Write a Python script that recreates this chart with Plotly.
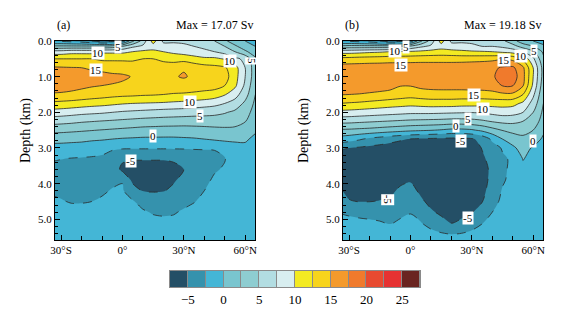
import plotly.graph_objects as go

# ---------------- data ----------------
lat = [-35, -30, -25, -20, -15, -10, -5, 0, 5, 10, 15, 20, 25, 30, 35, 40, 45, 50, 55, 60, 65]
depth = [0, 0.15, 0.3, 0.5, 0.75, 1.0, 1.25, 1.5, 1.75, 2.0, 2.25, 2.5, 2.75, 3.0, 3.3, 3.6, 3.9, 4.2, 4.5, 4.8, 5.1, 5.6]

psi_a = [
    [-3, -3, -3.5, -4, -5, -6, -6, -4, 2, 6, 11, 7, 7, 7, 6.5, 6, 5, 3, 1, 0, -1],
    [3, 3, 3, 3, 3, 3, 3.5, 5, 7, 8, 9, 8.5, 8.5, 8, 7.5, 7, 6.5, 5, 3, 1, 0],
    [8.5, 8.5, 9, 9, 9, 9.5, 9.5, 9.5, 10, 10.5, 10.5, 10, 9.5, 9, 8.5, 8, 7.5, 6.5, 5, 3, 1],
    [12.5, 12.5, 12.5, 12.5, 12.5, 12, 12, 12, 12, 12.5, 12.5, 12, 11.5, 11.5, 11, 10.5, 10.5, 9.8, 8, 7, 3],
    [15.3, 15.2, 15.1, 15.0, 14.7, 14.5, 14.3, 14.2, 14, 13.8, 13.7, 13.6, 14, 14.8, 14, 13.5, 13.2, 12.8, 11, 7.5, 3.5],
    [16.5, 16.5, 16.3, 16, 15.8, 15.6, 15.4, 15.3, 14.9, 14.5, 14.5, 14.5, 14.8, 15.2, 14.6, 14.3, 14, 13.5, 11, 7.5, 3.5],
    [16, 16, 15.8, 15.5, 15.2, 15.0, 14.9, 14.7, 14.2, 14, 14, 14, 14, 14, 13.8, 13.5, 13.5, 12.5, 10.5, 7, 3],
    [14.8, 14.7, 14.5, 14.2, 13.9, 13.6, 13.3, 13.1, 13, 12.8, 12.7, 12.5, 12.3, 12.2, 12, 11.8, 11.3, 10.2, 8.5, 6, 2.5],
    [12, 11.8, 11.6, 11.3, 11, 10.8, 10.5, 10.2, 10, 9.9, 9.8, 9.7, 9.5, 9.3, 9.0, 8.7, 8.3, 7.5, 6.5, 4.5, 2],
    [9, 8.8, 8.5, 8.2, 8, 7.8, 7.5, 7.2, 7, 6.8, 6.6, 6.4, 6.3, 6.2, 6.0, 5.8, 5.6, 5.2, 4.5, 3.5, 1.5],
    [6, 5.8, 5.6, 5.3, 5.1, 4.9, 4.7, 4.5, 4.3, 4.1, 4.0, 3.9, 3.8, 3.7, 3.7, 3.8, 3.8, 3.6, 3.3, 2.6, 1.0],
    [3.3, 3.2, 3, 2.8, 2.6, 2.4, 2.2, 2.0, 1.8, 1.6, 1.5, 1.4, 1.4, 1.4, 1.5, 1.6, 1.8, 2.0, 2.0, 1.5, 0.3],
    [0.8, 0.7, 0.6, 0.5, 0.3, 0.2, 0, -0.2, -0.3, -0.4, -0.4, -0.4, -0.4, -0.3, -0.2, 0, 0.3, 0.6, 0.5, 0.3, -0.5],
    [-0.8, -0.8, -0.9, -1, -1.2, -1.5, -2.2, -2.3, -2.3, -2.3, -2.3, -2.3, -2.3, -2.3, -2.3, -2.3, -2.3, -2.0, -1, -0.5, -0.3],
    [-2.3, -2.45, -2.6, -2.7, -2.8, -3.0, -3.5, -4.6, -4.8, -4.8, -4.8, -4.8, -4.7, -4.4, -3.8, -3.5, -3.2, -2.6, -1.2, -0.6, -0.3],
    [-3.0, -3.1, -3.2, -3.3, -3.3, -3.3, -3.5, -5.6, -6, -6.2, -6.2, -6.1, -5.6, -5.0, -4.2, -3.8, -2.7, -2.3, -1.2, -0.6, -0.3],
    [-3.0, -3.1, -3.1, -3.1, -3.0, -2.9, -2.8, -2.6, -5.6, -5.9, -6, -5.8, -5.2, -4.5, -3.7, -3.0, -2.2, -1.6, -1.0, -0.5, -0.3],
    [-2.7, -2.8, -2.9, -2.9, -2.8, -2.7, -2.4, -2.3, -3.8, -5.1, -5.2, -5.1, -4.6, -3.9, -3.2, -2.5, -1.8, -1.3, -0.8, -0.5, -0.3],
    [-2.2, -2.4, -2.6, -2.6, -2.5, -2.3, -2.0, -1.8, -2.3, -3.3, -3.6, -3.7, -3.5, -3.1, -2.6, -2.0, -1.4, -1.0, -0.7, -0.4, -0.3],
    [-1.6, -1.8, -2.0, -2.0, -1.9, -1.7, -1.5, -1.4, -1.6, -2.2, -2.7, -2.8, -2.7, -2.2, -1.8, -1.4, -1.0, -0.7, -0.5, -0.3, -0.2],
    [-1.0, -1.1, -1.2, -1.2, -1.1, -1.0, -0.9, -0.9, -1.0, -1.4, -1.8, -2.0, -1.9, -1.5, -1.2, -0.9, -0.6, -0.4, -0.3, -0.2, -0.1],
    [-0.3, -0.3, -0.3, -0.3, -0.3, -0.3, -0.3, -0.3, -0.3, -0.4, -0.5, -0.5, -0.5, -0.4, -0.3, -0.3, -0.2, -0.2, -0.2, -0.1, -0.1],
]

psi_b = [
    [-3, -3, -3.5, -4, -5, -6, -6, -4, 2, 6, 11, 7, 7, 7, 6.5, 6, 5.5, 3.5, 1, 0, -1],
    [3, 3.5, 3.5, 3.5, 3.5, 3.5, 4.5, 5.5, 7, 8, 9, 8.5, 8.5, 8, 7.5, 7.5, 7, 6, 4, 2.5, 0.5],
    [9, 9, 9.2, 9.5, 9.7, 10, 10.2, 10.3, 10.5, 10.8, 11, 10.8, 10.5, 10.3, 10.2, 10, 9.5, 9, 7.5, 5.5, 2],
    [13.2, 13.3, 13.5, 13.6, 13.7, 13.8, 13.8, 13.9, 14, 14, 14, 14, 14, 14.1, 14.2, 14.4, 14.8, 14.3, 12, 8, 3],
    [16.2, 16.3, 16.3, 16.4, 16.4, 16.5, 16.5, 16.5, 16.5, 16.5, 16.5, 16.5, 16.6, 16.7, 16.8, 17, 17.8, 18, 15.5, 10, 4],
    [17, 17, 17, 17, 17, 17, 17, 17, 17, 17, 17, 17, 17, 17, 17, 17.2, 18.4, 18.8, 15.8, 10, 4],
    [16.5, 16.4, 16.3, 16.2, 16, 15.8, 15.1, 15.1, 15.6, 15.8, 15.9, 15.9, 15.9, 16, 16.1, 16.3, 17.6, 17.6, 15.2, 9.5, 3.5],
    [15.1, 15, 14.9, 14.7, 14.5, 14.2, 13.8, 13.5, 13.8, 14, 14, 14, 14, 14, 14, 14.2, 14.5, 14.5, 12.5, 8, 3],
    [12.5, 12.3, 12.1, 11.8, 11.5, 11.2, 11, 10.8, 11, 11.2, 11.2, 11.2, 11, 11, 10.9, 11, 11, 10.8, 9.5, 6.5, 2.5],
    [9.3, 9.2, 9, 8.8, 8.6, 8.4, 8.2, 8, 8, 8, 7.9, 7.8, 7.7, 7.6, 7.8, 8.2, 8.6, 8.4, 7.5, 5, 2],
    [5.8, 5.7, 5.5, 5.3, 5.1, 4.9, 4.7, 4.5, 4.4, 4.3, 4.2, 4.0, 4.0, 4.2, 4.6, 5.2, 5.6, 5.6, 5, 3.8, 1.5],
    [2.2, 2.1, 1.9, 1.7, 1.4, 1.1, 0.8, 0.5, 0.3, 0.1, -0.2, -0.6, -0.6, -0.3, 0.5, 1.6, 2.6, 3.2, 3.2, 2.5, 0.5],
    [-1.0, -1.5, -2.2, -3.0, -3.6, -4.2, -4.7, -5.1, -5.3, -5.4, -5.5, -5.6, -5.6, -5.3, -4.2, -2.0, 0.0, 1.2, 2.0, 1.5, -0.5],
    [-4.5, -5.0, -5.3, -5.6, -5.8, -6.0, -6.2, -6.4, -6.5, -6.6, -6.6, -6.6, -6.6, -6.2, -4.9, -3.5, -2.3, -0.5, 1.0, -0.3, -0.8],
    [-6.5, -6.8, -7, -7, -7, -7, -7, -7, -7, -7, -7, -7, -7, -6.8, -5.4, -4.2, -2.8, -2.2, 0.1, -0.6, -0.8],
    [-7, -7.2, -7.3, -7.3, -7.3, -7.3, -7.3, -7.3, -7.3, -7.3, -7.3, -7.3, -7.2, -7, -6, -4.4, -2.9, -2.0, -0.5, -0.6, -0.6],
    [-6.5, -6.6, -6.6, -6.5, -6.3, -6, -5.5, -5.2, -6.8, -7.2, -7.3, -7.3, -7.2, -7, -5.8, -4.4, -2.8, -1.8, -0.8, -0.5, -0.5],
    [-4.8, -5.4, -5.8, -5.8, -5.7, -5.5, -4.6, -4.3, -5.4, -6.5, -7.0, -7.1, -7.0, -6.8, -5.6, -4.0, -2.3, -1.5, -0.7, -0.5, -0.5],
    [-3.8, -4.9, -5.05, -5.05, -4.9, -4.7, -3.8, -3.6, -4.6, -5.6, -6.5, -6.7, -6.6, -6.3, -5.1, -3.5, -1.9, -1.2, -0.6, -0.4, -0.4],
    [-2.6, -2.9, -3.1, -3.1, -3.0, -3.0, -2.8, -2.6, -3.2, -4.7, -5.4, -5.8, -5.6, -5.1, -3.8, -2.5, -1.4, -0.9, -0.5, -0.3, -0.3],
    [-1.6, -1.8, -2.0, -2.2, -2.4, -2.6, -2.3, -2.0, -2.4, -3.3, -4.3, -5.1, -4.6, -3.6, -2.6, -1.8, -1.0, -0.7, -0.4, -0.3, -0.3],
    [-0.5, -0.6, -0.7, -0.8, -0.9, -1.0, -0.9, -0.8, -0.9, -1.0, -1.0, -1.0, -1.0, -0.9, -0.8, -0.6, -0.4, -0.3, -0.2, -0.2, -0.2],
]

panel_tags = ["(a)", "(b)"]
panel_max = ["Max = 17.07 Sv", "Max = 19.18 Sv"]
y_title = "Depth (km)"

x_tickvals = [-30, 0, 30, 60]
x_ticktext = ["30°S", "0°", "30°N", "60°N"]
y_tickvals = [0, 1, 2, 3, 4, 5]

# colour bands (2.5 Sv each): <-5, -5..-2.5, ..., >25
band_mid = [-6.25, -3.75, -1.25, 1.25, 3.75, 6.25, 8.75, 11.25, 13.75, 16.25, 18.75, 21.25, 23.75, 26.25]
band_colors = ["#244f66", "#3592ad", "#44b6d6", "#79c5cf", "#8ecdd1", "#b2dde2", "#d8eef0",
               "#f3ea22", "#f7d41c", "#f49a2c", "#f07a2c", "#e84a30", "#e63232", "#6a2420"]
cbar_ticks = [-5, 0, 5, 10, 15, 20, 25]

# contour labels: (lat, depth, text, angle)
labels_a = [(-2, 0.17, "5", 0), (-12, 0.33, "10", 0), (-13, 0.8, "15", 0), (52.4, 0.57, "10", 0),
            (63, 0.57, "5", 90), (32.9, 1.72, "10", 0), (37.7, 2.1, "5", 0), (14.8, 2.67, "0", 0),
            (4.1, 3.37, "-5", 0)]
labels_b = [(-7.8, 0.29, "10", 0), (-2.1, 0.18, "5", 0), (-4.5, 0.68, "15", 0), (45.9, 0.52, "15", 0),
            (54, 0.43, "10", 0), (60.5, 0.29, "5", 0), (31.2, 1.52, "15", 0), (35.3, 1.92, "10", 0),
            (28, 2.2, "5", 0), (22.3, 2.39, "0", 0), (24.7, 2.81, "-5", 0), (59.7, 2.79, "0", 0),
            (-11, 4.45, "-5", 90), (28, 4.96, "-5", 0)]

# ---------------- figure ----------------
SERIF = "Liberation Serif"
W, H = 579, 310
n = len(band_colors)
cscale = [[i / (n - 1), c] for i, c in enumerate(band_colors)]

fig = go.Figure()
panels = [(psi_a, "x", "y", labels_a), (psi_b, "x2", "y2", labels_b)]
for psi, xa, ya, labs in panels:
    fig.add_trace(go.Contour(
        x=lat, y=depth, z=psi, xaxis=xa, yaxis=ya,
        colorscale=cscale, showscale=False, autocontour=False,
        contours=dict(start=-5, end=25, size=2.5, coloring="fill", showlines=False),
        line=dict(width=0), line_smoothing=0.85, hoverinfo="skip"))
    fig.add_trace(go.Contour(
        x=lat, y=depth, z=psi, xaxis=xa, yaxis=ya, showscale=False, autocontour=False,
        contours=dict(start=0, end=25, size=2.5, coloring="none"),
        line=dict(color="#2a2a2a", width=0.8), line_smoothing=0.85, hoverinfo="skip"))
    fig.add_trace(go.Contour(
        x=lat, y=depth, z=psi, xaxis=xa, yaxis=ya, showscale=False, autocontour=False,
        contours=dict(start=-5, end=-2.5, size=2.5, coloring="none"),
        line=dict(color="#2a2a2a", width=0.8, dash="dash"), line_smoothing=0.85, hoverinfo="skip"))
    for lx, ly, t, ang in labs:
        fig.add_annotation(x=lx, y=ly, xref=xa, yref=ya, text=t, showarrow=False,
                           textangle=ang, bgcolor="white", borderpad=0,
                           font=dict(family=SERIF, size=11, color="black"))

# colour bar as a heatmap strip
fig.add_trace(go.Heatmap(
    x=band_mid, y=[0], z=[band_mid], xaxis="x3", yaxis="y3",
    colorscale=cscale, zmin=band_mid[0], zmax=band_mid[-1], showscale=False,
    xgap=1, hoverinfo="skip"))

axis_common = dict(showline=True, linecolor="black", linewidth=1, mirror=True,
                   ticks="inside", tickcolor="black", showgrid=False, zeroline=False,
                   automargin=False,
                   tickfont=dict(family=SERIF, size=11, color="black"))

doms_x = [[47 / W, 247 / W], [335 / W, 535 / W]]
dom_y = [1 - 232 / H, 1 - 33 / H]

layout = dict(
    width=W, height=H, margin=dict(l=0, r=0, t=0, b=0, autoexpand=False),
    paper_bgcolor="white", plot_bgcolor="#8a8a8a", showlegend=False,
)
for i, (xk, yk) in enumerate([("xaxis", "yaxis"), ("xaxis2", "yaxis2")]):
    layout[xk] = dict(axis_common, domain=doms_x[i], range=[-33, 64.8],
                      tickmode="array", tickvals=x_tickvals, ticktext=x_ticktext, ticklen=5,
                      minor=dict(tickmode="linear", tick0=0, dtick=10, ticks="inside", ticklen=4, tickcolor="black"),
                      anchor="y" if i == 0 else "y2")
    layout[yk] = dict(axis_common, domain=dom_y, range=[5.58, 0],
                      tickmode="array", tickvals=y_tickvals, tickformat=".1f", ticklen=5,
                      minor=dict(tickmode="linear", tick0=0, dtick=0.2, ticks="inside", ticklen=3, tickcolor="black"),
                      anchor="x" if i == 0 else "x2")

layout["xaxis3"] = dict(domain=[162 / W, 412 / W], range=[-7.5, 27.5], anchor="y3",
                        tickmode="array", tickvals=cbar_ticks, ticks="", showgrid=False, zeroline=False,
                        showline=True, linecolor="#8a8a8a", mirror=True, automargin=False,
                        tickfont=dict(family=SERIF, size=13, color="black"))
layout["yaxis3"] = dict(domain=[1 - 279 / H, 1 - 263 / H], range=[-0.5, 0.5], anchor="x3",
                        showticklabels=False, ticks="", showgrid=False, zeroline=False,
                        showline=True, linecolor="#8a8a8a", mirror=True, automargin=False)
fig.update_layout(**layout)

title_x = [18 / W, 296 / W]
for i in range(2):
    xr = "x domain" if i == 0 else "x2 domain"
    yr = "y domain" if i == 0 else "y2 domain"
    fig.add_annotation(x=0.0, y=1.035, xref=xr, yref=yr, text=panel_tags[i], showarrow=False,
                       xanchor="left", yanchor="bottom", font=dict(family=SERIF, size=12, color="black"))
    fig.add_annotation(x=1.0, y=1.035, xref=xr, yref=yr, text=panel_max[i], showarrow=False,
                       xanchor="right", yanchor="bottom", font=dict(family=SERIF, size=12, color="black"))
    fig.add_annotation(x=title_x[i], y=1 - 123 / H, xref="paper", yref="paper", text=y_title,
                       showarrow=False, textangle=-90, xanchor="center", yanchor="middle",
                       font=dict(family=SERIF, size=14, color="black"))

fig.write_html("out.html")
